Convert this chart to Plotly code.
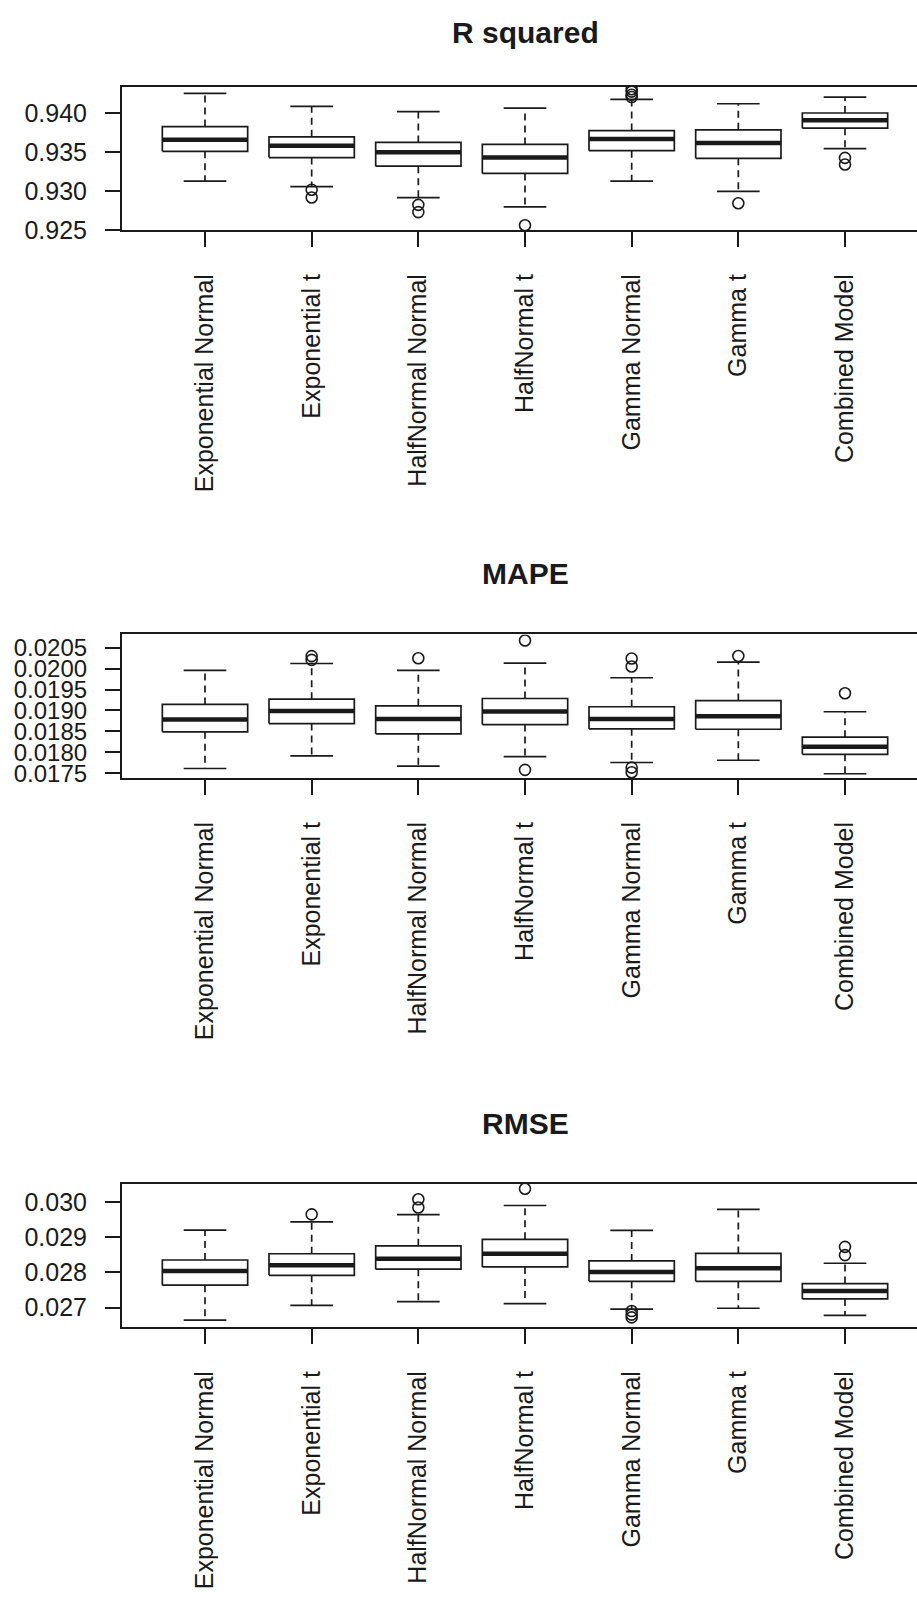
import plotly.graph_objects as go

categories = ["Exponential Normal", "Exponential t", "HalfNormal Normal", "HalfNormal t",
              "Gamma Normal", "Gamma t", "Combined Model"]

# ---- R squared ----
r2_lower = [0.93131, 0.9306, 0.9292, 0.9280, 0.93131, 0.9300, 0.93547]
r2_q1 = [0.93513, 0.93433, 0.93322, 0.93229, 0.93522, 0.93424, 0.9381]
r2_median = [0.93662, 0.93585, 0.93500, 0.93433, 0.9367, 0.9362, 0.93912]
r2_q3 = [0.93831, 0.9370, 0.93627, 0.93602, 0.9378, 0.93789, 0.94005]
r2_upper = [0.94256, 0.9409, 0.94022, 0.94069, 0.94179, 0.94124, 0.94209]
r2_outliers = [[], [0.9302, 0.9292], [0.92826, 0.92733], [0.92564],
               [0.9431, 0.9428, 0.9424, 0.9421], [0.92847], [0.93429, 0.93344]]
r2_ticks = [0.925, 0.930, 0.935, 0.940]
r2_ticktext = ["0.925", "0.930", "0.935", "0.940"]

# ---- MAPE ----
mape_lower = [0.01761, 0.01791, 0.017666, 0.017895, 0.017754, 0.017808, 0.017484]
mape_q1 = [0.018488, 0.018685, 0.01844, 0.018661, 0.018559, 0.01855, 0.01795]
mape_median = [0.01878, 0.018986, 0.018796, 0.018977, 0.018796, 0.018858, 0.018132]
mape_q3 = [0.019143, 0.01927, 0.019111, 0.019285, 0.019088, 0.019237, 0.01836]
mape_upper = [0.019957, 0.020123, 0.019957, 0.02013, 0.019782, 0.020154, 0.018969]
mape_outliers = [[], [0.02030, 0.02021], [0.020249], [0.020675, 0.017578],
                 [0.020242, 0.020052, 0.01763, 0.01752], [0.020304], [0.019412]]
mape_ticks = [0.0175, 0.0180, 0.0185, 0.0190, 0.0195, 0.0200, 0.0205]
mape_ticktext = ["0.0175", "0.0180", "0.0185", "0.0190", "0.0195", "0.0200", "0.0205"]

# ---- RMSE ----
rmse_lower = [0.02664, 0.027064, 0.027168, 0.027112, 0.026953, 0.02698, 0.026777]
rmse_q1 = [0.027634, 0.027913, 0.028089, 0.028154, 0.027745, 0.027745, 0.027243]
rmse_median = [0.028034, 0.028201, 0.028388, 0.028527, 0.028006, 0.028117, 0.027466]
rmse_q3 = [0.028349, 0.028527, 0.028751, 0.028937, 0.028322, 0.028536, 0.027679]
rmse_upper = [0.029198, 0.02943, 0.029635, 0.029896, 0.029188, 0.029784, 0.028257]
rmse_outliers = [[], [0.029645], [0.030073, 0.02984], [0.030371], [0.02690, 0.02680, 0.02672],
                 [], [0.028723, 0.028489]]
rmse_ticks = [0.027, 0.028, 0.029, 0.030]
rmse_ticktext = ["0.027", "0.028", "0.029", "0.030"]

titles = ["R squared", "MAPE", "RMSE"]

panels = [
    dict(lower=r2_lower, q1=r2_q1, med=r2_median, q3=r2_q3, upper=r2_upper, out=r2_outliers,
         ticks=r2_ticks, ticktext=r2_ticktext, yrange=[0.92500, 0.94345], top=87.3, bottom=232.3,
         tfs=25),
    dict(lower=mape_lower, q1=mape_q1, med=mape_median, q3=mape_q3, upper=mape_upper, out=mape_outliers,
         ticks=mape_ticks, ticktext=mape_ticktext, yrange=[0.01738, 0.02082], top=640, bottom=785,
         tfs=24),
    dict(lower=rmse_lower, q1=rmse_q1, med=rmse_median, q3=rmse_q3, upper=rmse_upper, out=rmse_outliers,
         ticks=rmse_ticks, ticktext=rmse_ticktext, yrange=[0.02644, 0.03052], top=1194, bottom=1339,
         tfs=25),
]
title_y = [33, 579, 1133]

W, H = 917, 1597
FONT = "Liberation Sans, Arial, sans-serif"
INK = "#1a1a1a"
LW = 1.7
HALF = 0.4     # half box width
CAP = 0.2      # half staple width

fig = go.Figure()
layout = dict(width=W, height=H, margin=dict(l=0, r=0, t=0, b=0),
              paper_bgcolor="white", plot_bgcolor="white", showlegend=False,
              font=dict(family=FONT, size=25, color=INK))
annotations = []

for k, p in enumerate(panels):
    xa = "x" if k == 0 else f"x{k+1}"
    ya = "y" if k == 0 else f"y{k+1}"
    xs = list(range(1, len(categories) + 1))

    bx, by, mx, my, wx, wy, cx, cy, ox, oy = [], [], [], [], [], [], [], [], [], []
    for i, xv in enumerate(xs):
        bx += [xv - HALF, xv + HALF, xv + HALF, xv - HALF, xv - HALF, None]
        by += [p["q1"][i], p["q1"][i], p["q3"][i], p["q3"][i], p["q1"][i], None]
        mx += [xv - HALF, xv + HALF, None]
        my += [p["med"][i], p["med"][i], None]
        wx += [xv, xv, None, xv, xv, None]
        wy += [p["q3"][i], p["upper"][i], None, p["q1"][i], p["lower"][i], None]
        cx += [xv - CAP, xv + CAP, None, xv - CAP, xv + CAP, None]
        cy += [p["upper"][i], p["upper"][i], None, p["lower"][i], p["lower"][i], None]
        for o in p["out"][i]:
            ox.append(xv)
            oy.append(o)

    common = dict(xaxis=xa, yaxis=ya, hoverinfo="skip", showlegend=False)
    fig.add_trace(go.Scatter(x=wx, y=wy, mode="lines",
                             line=dict(color=INK, width=LW, dash="7px,5px"), **common))
    fig.add_trace(go.Scatter(x=cx, y=cy, mode="lines",
                             line=dict(color=INK, width=LW), **common))
    fig.add_trace(go.Scatter(x=bx, y=by, mode="lines", fill="toself", fillcolor="white",
                             line=dict(color=INK, width=LW), **common))
    fig.add_trace(go.Scatter(x=mx, y=my, mode="lines",
                             line=dict(color=INK, width=4.5), **common))
    fig.add_trace(go.Scatter(x=ox, y=oy, mode="markers",
                             marker=dict(symbol="circle-open", size=11, color=INK,
                                         line=dict(width=1.6, color=INK)), **common))

    px0 = 121.8
    ydom = [1 - p["bottom"] / H, 1 - p["top"] / H]
    xkey = "xaxis" if k == 0 else f"xaxis{k+1}"
    ykey = "yaxis" if k == 0 else f"yaxis{k+1}"
    layout[xkey] = dict(domain=[px0 / W, 1.0], range=[0.22, 7.675], anchor=ya,
                        tickmode="array", tickvals=xs, ticktext=categories,
                        tickangle=-90, ticks="outside", ticklen=15, tickwidth=LW,
                        tickcolor=INK, showline=True, mirror=True, linecolor=INK,
                        linewidth=LW, showgrid=False, zeroline=False,
                        ticklabelstandoff=17, tickfont=dict(size=25, color=INK, family=FONT))
    layout[ykey] = dict(domain=ydom, range=p["yrange"], anchor=xa,
                        tickmode="array", tickvals=p["ticks"], ticktext=p["ticktext"],
                        ticks="outside", ticklen=15, tickwidth=LW, tickcolor=INK,
                        showline=True, mirror=False, linecolor=INK, linewidth=LW,
                        showgrid=False, zeroline=False, ticklabelstandoff=13,
                        tickfont=dict(size=p["tfs"], color=INK, family=FONT))
    annotations.append(dict(text=f"<b>{titles[k]}</b>", x=525 / W, y=1 - title_y[k] / H,
                            xref="paper", yref="paper", xanchor="center", yanchor="middle",
                            showarrow=False, font=dict(size=30, color=INK, family=FONT)))

layout["annotations"] = annotations
fig.update_layout(**layout)
fig.write_html("out.html")
